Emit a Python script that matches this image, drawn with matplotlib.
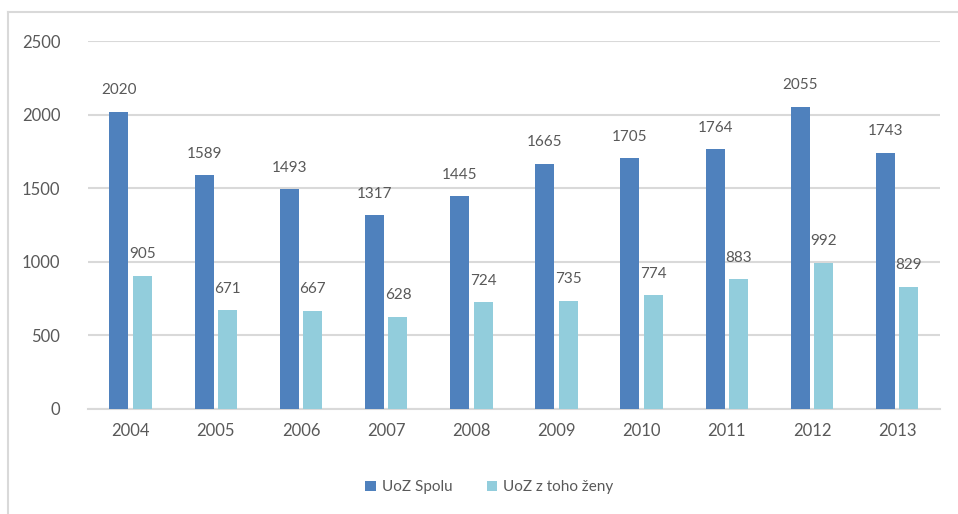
import numpy as np
import matplotlib
matplotlib.use('Agg')
import matplotlib.pyplot as plt
from matplotlib.lines import Line2D

plt.rcParams['font.family'] = ['Lato', 'DejaVu Sans']

years = ['2004', '2005', '2006', '2007', '2008', '2009', '2010', '2011', '2012', '2013']
spolu = [2020, 1589, 1493, 1317, 1445, 1665, 1705, 1764, 2055, 1743]
zeny = [905, 671, 667, 628, 724, 735, 774, 883, 992, 829]
series_names = ['UoZ Spolu', 'UoZ z toho ženy']

c_dark = '#4F81BD'
c_light = '#92CDDC'
txt = '#595959'
grid_c = '#D9D9D9'

fig = plt.figure(figsize=(9.58, 5.14), dpi=100)
ax = fig.add_axes([0.092, 0.2043, 0.889, 0.7157])

x = np.arange(len(years))
w = 0.223
off = 0.138
b1 = ax.bar(x - off, spolu, w, color=c_dark, label=series_names[0], zorder=3)
b2 = ax.bar(x + off, zeny, w, color=c_light, label=series_names[1], zorder=3)

for rects, vals in ((b1, spolu), (b2, zeny)):
    for r, v in zip(rects, vals):
        ax.annotate(str(v), xy=(r.get_x() + r.get_width() / 2, v), xytext=(0, 15.5),
                    textcoords='offset points', ha='center', va='center',
                    fontsize=11, color=txt)

ax.set_xlim(-0.5, len(years) - 0.5)
ax.set_ylim(0, 2500)
ax.set_yticks(range(0, 2501, 500))
ax.set_xticks(x)
ax.set_xticklabels(years)
ax.tick_params(axis='both', length=0, labelsize=12, colors=txt)
ax.tick_params(axis='y', pad=20)
ax.tick_params(axis='x', pad=10)
ax.grid(axis='y', color=grid_c, linewidth=1.5, zorder=0)
for s in ['top', 'right', 'left']:
    ax.spines[s].set_visible(False)
ax.spines['bottom'].set_color(grid_c)
ax.spines['bottom'].set_linewidth(1.5)

leg = fig.legend(handles=[b1, b2], loc='center', bbox_to_anchor=(0.511, 0.052), ncol=2,
                 frameon=False, fontsize=11, handlelength=0.7, handleheight=0.7,
                 columnspacing=2.2, handletextpad=0.4, labelcolor=txt)

# chart border (top and left edge)
fig.add_artist(Line2D([7.5 / 958, 1.0], [1 - 11.5 / 514, 1 - 11.5 / 514], color=grid_c, lw=1.5))
fig.add_artist(Line2D([7.5 / 958, 7.5 / 958], [0, 1 - 11.5 / 514], color=grid_c, lw=1.5))

plt.savefig('out.png', dpi=100)
